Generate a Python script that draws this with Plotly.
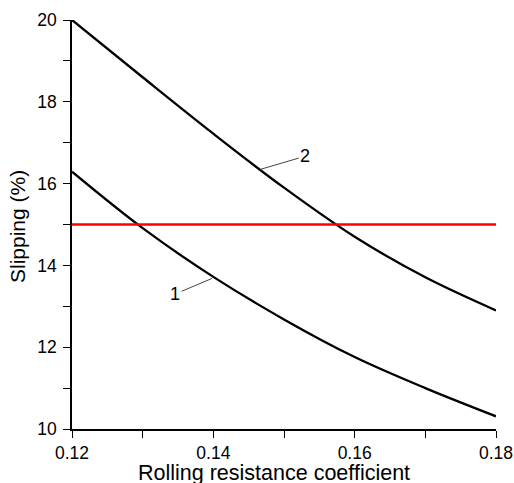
import plotly.graph_objects as go

# Data
coef = [0.12, 0.13, 0.14, 0.15, 0.16, 0.17, 0.18]
slip_1 = [16.29, 14.91, 13.72, 12.68, 11.76, 11.00, 10.31]
slip_2 = [20.0, 18.60, 17.22, 15.90, 14.70, 13.71, 12.90]
limit_x = [0.12, 0.18]
limit_y = [15.0, 15.0]

# Curve-label annotations: label text, point on curve, label position
labels = ["1", "2"]
label_pts = [(0.1398, 13.68), (0.1467, 16.35)]
label_pos = [(0.1346, 13.30), (0.1530, 16.67)]

x_title = "Rolling resistance coefficient"
y_title = "Slipping (%)"

FONT = "Liberation Sans, Arial, sans-serif"

fig = go.Figure()
fig.add_trace(go.Scatter(x=coef, y=slip_1, mode="lines", line=dict(color="black", width=2.3, shape="spline", smoothing=1), showlegend=False))
fig.add_trace(go.Scatter(x=coef, y=slip_2, mode="lines", line=dict(color="black", width=2.3, shape="spline", smoothing=1), showlegend=False))
fig.add_trace(go.Scatter(x=limit_x, y=limit_y, mode="lines", line=dict(color="#ff0000", width=2.5), showlegend=False))

for t, (px, py), (tx, ty) in zip(labels, label_pts, label_pos):
    fig.add_annotation(x=px, y=py, ax=tx, ay=ty, xref="x", yref="y", axref="x", ayref="y",
                       text=t, showarrow=True, arrowhead=0, arrowwidth=1, arrowcolor="#444",
                       standoff=0, font=dict(family=FONT, size=18, color="black"))

# Axis titles as paper-anchored text
fig.add_annotation(text=x_title, xref="paper", yref="paper", x=0.4755, y=-0.1076,
                   xanchor="center", yanchor="middle", showarrow=False,
                   font=dict(family=FONT, size=21.5, color="black"))
fig.add_annotation(text=y_title, xref="paper", yref="paper", x=-0.129, y=0.4946,
                   xanchor="center", yanchor="middle", showarrow=False, textangle=-90,
                   font=dict(family=FONT, size=21, color="black"))

fig.update_layout(
    width=514, height=483,
    margin=dict(l=72, r=18, t=20, b=54),
    paper_bgcolor="white", plot_bgcolor="white",
    font=dict(family=FONT, color="black"),
)
fig.update_xaxes(
    range=[0.12, 0.18], dtick=0.02, tick0=0.12, tickformat=".2f", automargin=False,
    showline=True, linecolor="black", linewidth=1.5, showgrid=False, zeroline=False,
    ticks="outside", ticklen=7, tickwidth=1.2, tickcolor="black", ticklabelstandoff=0,
    minor=dict(dtick=0.01, ticks="outside", ticklen=7, tickwidth=1.2, tickcolor="black", showgrid=False),
    tickfont=dict(size=17.5),
)
fig.update_yaxes(
    range=[10, 20], dtick=2, tick0=10, automargin=False,
    showline=True, linecolor="black", linewidth=1.5, showgrid=False, zeroline=False,
    ticks="outside", ticklen=7, tickwidth=1.2, tickcolor="black", ticklabelstandoff=3,
    minor=dict(dtick=1, ticks="outside", ticklen=7, tickwidth=1.2, tickcolor="black", showgrid=False),
    tickfont=dict(size=17.5),
)

fig.write_html("out.html")
